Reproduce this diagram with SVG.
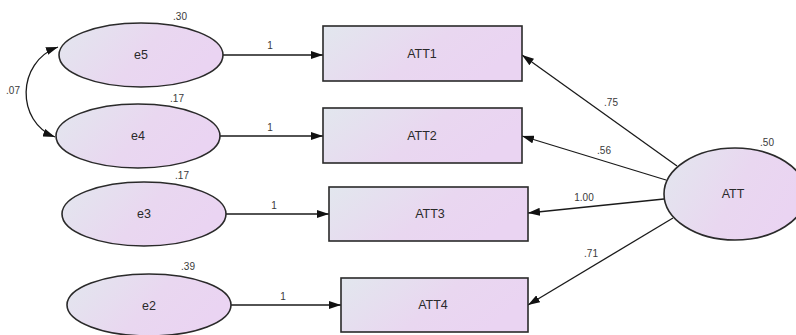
<svg xmlns="http://www.w3.org/2000/svg" width="796" height="335" viewBox="0 0 796 335">
  <defs>
    <linearGradient id="fillGrad" x1="0" y1="0" x2="1" y2="0.35">
      <stop offset="0" stop-color="#e2e7ee"/>
      <stop offset="0.6" stop-color="#e9d7f0"/>
      <stop offset="1" stop-color="#ead4f2"/>
    </linearGradient>
    <marker id="arrow" viewBox="0 0 12 8" refX="12" refY="4" markerWidth="12" markerHeight="8" markerUnits="userSpaceOnUse" orient="auto-start-reverse">
      <path d="M0,0 L12,4 L0,8 Z" fill="#111"/>
    </marker>
    <style>
      .node { fill: url(#fillGrad); stroke: #2a2a2a; stroke-width: 1.6; }
      .lbl { font-family: "Liberation Sans", Arial, sans-serif; font-size: 12.5px; fill: #2a2a2a; text-anchor: middle; dominant-baseline: central; }
      .num { font-family: "Liberation Sans", Arial, sans-serif; font-size: 10px; fill: #3a3a3a; text-anchor: middle; }
      .edge { stroke: #1a1a1a; stroke-width: 1.3; fill: none; marker-end: url(#arrow); }
    </style>
  </defs>
  <rect width="796" height="335" fill="#ffffff"/>

  <!-- paths between nodes -->
  <g id="connectors">
    <path class="edge" d="M223,55 L323,55"/>
    <path class="edge" d="M220,136 L323,136"/>
    <path class="edge" d="M226,214 L329,214"/>
    <path class="edge" d="M231,305 L341,305"/>
    <path class="edge" d="M677,166 L522,55"/>
    <path class="edge" d="M666,180 L522,136"/>
    <path class="edge" d="M664,199 L528,213"/>
    <path class="edge" d="M673,218 L528,305"/>
    <path class="edge" style="marker-start:url(#arrow)" d="M58,47 C16,62 16,122 55,137"/>
    <text class="num" x="270" y="49">1</text>
    <text class="num" x="270" y="131">1</text>
    <text class="num" x="274" y="209">1</text>
    <text class="num" x="283" y="300">1</text>
    <text class="num" x="611" y="106">.75</text>
    <text class="num" x="604" y="154">.56</text>
    <text class="num" x="584" y="201">1.00</text>
    <text class="num" x="591" y="257">.71</text>
    <text class="num" x="13" y="94">.07</text>
  </g>

  <g id="e5">
    <ellipse class="node" cx="141" cy="55" rx="82" ry="32"/>
    <text class="lbl" x="141" y="55">e5</text>
    <text class="num" x="180" y="20">.30</text>
  </g>
  <g id="e4">
    <ellipse class="node" cx="138" cy="136" rx="82" ry="32"/>
    <text class="lbl" x="138" y="136">e4</text>
    <text class="num" x="177" y="102">.17</text>
  </g>
  <g id="e3">
    <ellipse class="node" cx="144" cy="214" rx="82" ry="32"/>
    <text class="lbl" x="144" y="214">e3</text>
    <text class="num" x="182" y="179">.17</text>
  </g>
  <g id="e2">
    <ellipse class="node" cx="149" cy="305" rx="82" ry="31"/>
    <text class="lbl" x="149" y="306">e2</text>
    <text class="num" x="188" y="270">.39</text>
  </g>

  <g id="ATT1">
    <rect class="node" x="323" y="26" width="199" height="55"/>
    <text class="lbl" x="422" y="54">ATT1</text>
  </g>
  <g id="ATT2">
    <rect class="node" x="323" y="108" width="199" height="55"/>
    <text class="lbl" x="422" y="136">ATT2</text>
  </g>
  <g id="ATT3">
    <rect class="node" x="329" y="187" width="199" height="54"/>
    <text class="lbl" x="430" y="214">ATT3</text>
  </g>
  <g id="ATT4">
    <rect class="node" x="341" y="278" width="187" height="54"/>
    <text class="lbl" x="433" y="305">ATT4</text>
  </g>

  <g id="ATT">
    <ellipse class="node" cx="735" cy="194" rx="71" ry="46"/>
    <text class="lbl" x="733" y="194">ATT</text>
    <text class="num" x="767" y="146">.50</text>
  </g>
</svg>
